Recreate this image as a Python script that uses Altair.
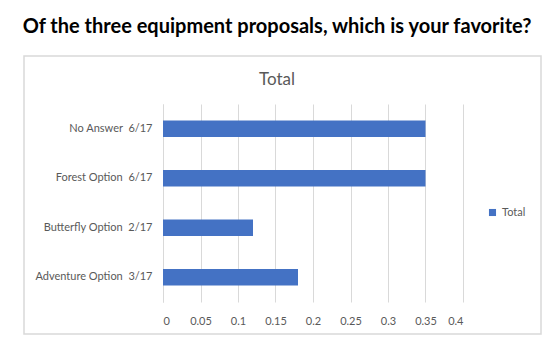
import altair as alt
import pandas as pd

categories = ["No Answer\u00a0\u00a06/17", "Forest Option\u00a0\u00a06/17",
              "Butterfly Option\u00a0\u00a02/17", "Adventure Option\u00a0\u00a03/17"]
values = [0.35, 0.35, 0.12, 0.18]
series = ["Total", "Total", "Total", "Total"]
x_ticks = [0, 0.05, 0.1, 0.15, 0.2, 0.25, 0.3, 0.35, 0.4]

df = pd.DataFrame({"category": categories, "value": values, "series": series})

FONT = "Lato"
GRAY = "#595959"
LINE = "#d9d9d9"

border = alt.Chart(alt.Data(values=[{"a": 1}])).mark_rect(
    fillOpacity=0, stroke=LINE, strokeWidth=1.5
).encode(
    x=alt.value(-139), x2=alt.value(378), y=alt.value(-48), y2=alt.value(230)
)

bars = alt.Chart(df).mark_bar(color="#4472C4").encode(
    x=alt.X("value:Q",
            scale=alt.Scale(domain=[0, 0.4], nice=False),
            axis=alt.Axis(values=x_ticks, format="~g", grid=True, gridColor=LINE,
                          domain=False, ticks=False, labelColor=GRAY, labelFontSize=11,
                          labelFont=FONT, labelPadding=13, title=None)),
    y=alt.Y("category:N", sort=categories,
            scale=alt.Scale(paddingInner=0.67, paddingOuter=0.335),
            axis=alt.Axis(grid=False, domain=True, domainColor=LINE, ticks=False,
                          labelColor=GRAY, labelFontSize=11, labelFont=FONT,
                          labelPadding=11, title=None)),
    color=alt.Color("series:N", scale=alt.Scale(range=["#4472C4"]), title=None,
                    legend=alt.Legend(orient="none", legendX=324, legendY=103,
                                      symbolType="square", symbolSize=50,
                                      symbolStrokeWidth=0,
                                      labelFont=FONT, labelFontSize=11,
                                      labelColor=GRAY)),
)

chart = alt.layer(border, bars).properties(
    width=300,
    height=198,
    autosize=alt.AutoSizeParams(type="none"),
    padding={"left": 163, "top": 104, "right": 93, "bottom": 54},
    background="white",
    title=alt.TitleParams(
        text="Of the three equipment proposals, which is your favorite?",
        subtitle="Total",
        anchor="middle",
        dx=-36,
        font=FONT,
        fontSize=20,
        fontWeight="bold",
        color="black",
        subtitleFont=FONT,
        subtitleFontSize=17,
        subtitleColor=GRAY,
        subtitlePadding=35,
        offset=-33,
    ),
).configure_view(strokeWidth=0)

chart.save("out.html", embed_options={"renderer": "svg", "actions": False})
